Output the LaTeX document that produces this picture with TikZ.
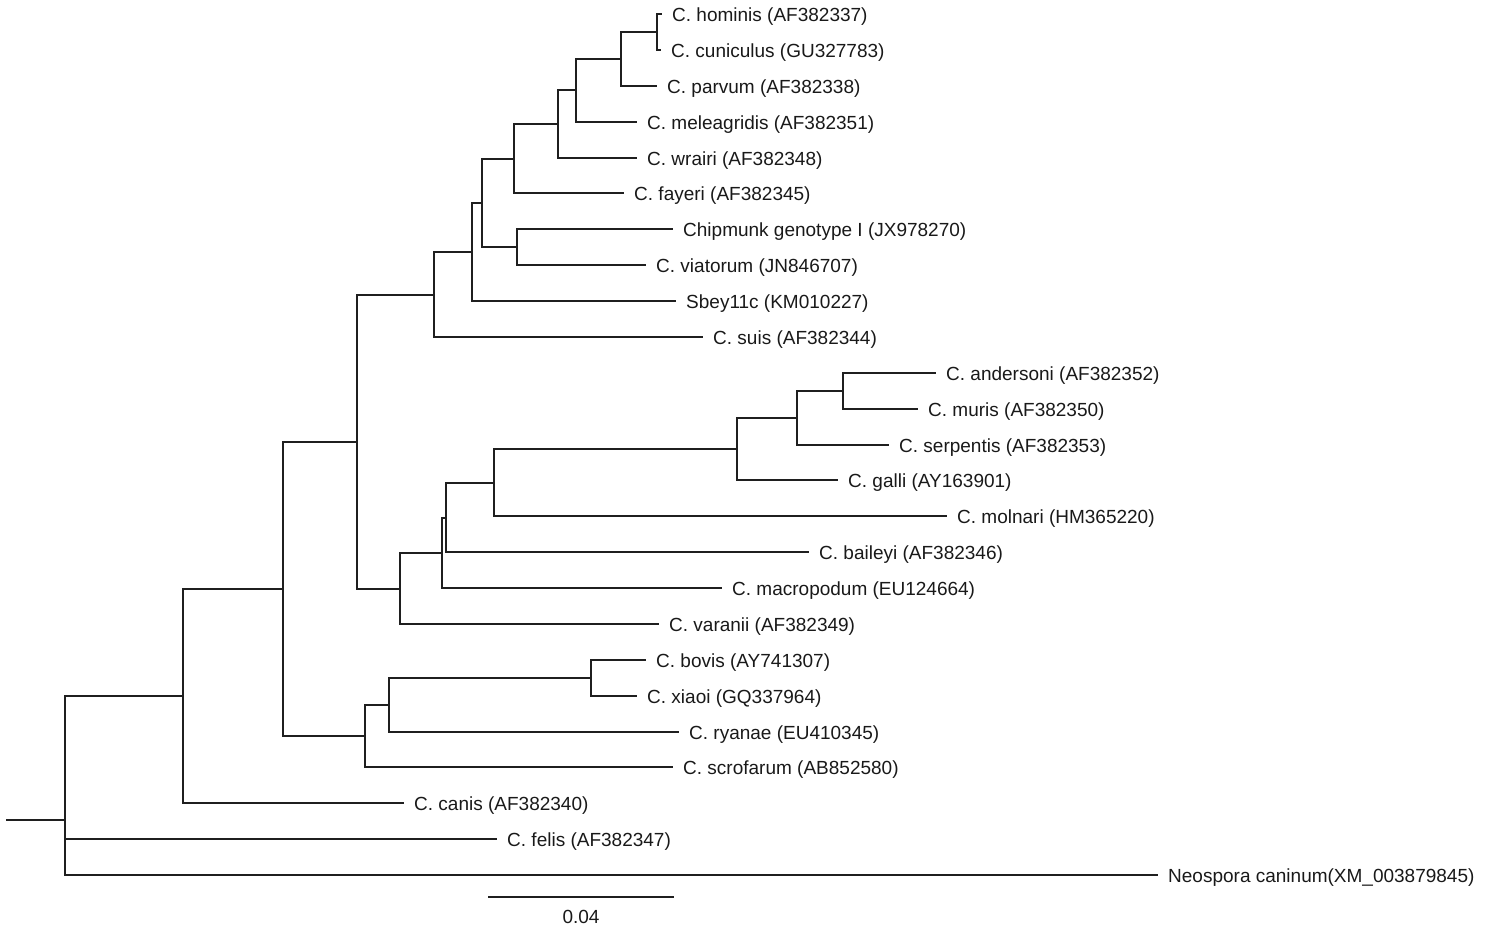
\documentclass[tikz,border=0pt]{standalone}
\usepackage{fontspec}
\setmainfont{Liberation Sans}
\begin{document}
\begin{tikzpicture}[x=1pt,y=-1pt,
  br/.style={line width=2pt, line cap=rect, color=black!88},
  leaf/.style={anchor=west, inner xsep=11pt, inner ysep=0pt, text height=15.6pt, text depth=0pt, text=black!90, font=\fontsize{19}{22}\selectfont},
  scalelbl/.style={inner sep=0pt, text=black!90, font=\fontsize{19}{22}\selectfont}]
\useasboundingbox (0,0) rectangle (1485,931);
% leaves
\node[leaf] (hominis)    at (661,14)  {C. hominis (AF382337)};
\node[leaf] (cuniculus)  at (660,50)  {C. cuniculus (GU327783)};
\node[leaf] (parvum)     at (656,86)  {C. parvum (AF382338)};
\node[leaf] (meleag)     at (636,122) {C. meleagridis (AF382351)};
\node[leaf] (wrairi)     at (636,158) {C. wrairi (AF382348)};
\node[leaf] (fayeri)     at (623,193) {C. fayeri (AF382345)};
\node[leaf] (chipmunk)   at (672,229) {Chipmunk genotype I (JX978270)};
\node[leaf] (viatorum)   at (645,265) {C. viatorum (JN846707)};
\node[leaf] (sbey)       at (675,301) {Sbey11c (KM010227)};
\node[leaf] (suis)       at (702,337) {C. suis (AF382344)};
\node[leaf] (andersoni)  at (935,373) {C. andersoni (AF382352)};
\node[leaf] (muris)      at (917,409) {C. muris (AF382350)};
\node[leaf] (serpentis)  at (888,445) {C. serpentis (AF382353)};
\node[leaf] (galli)      at (837,480) {C. galli (AY163901)};
\node[leaf] (molnari)    at (946,516) {C. molnari (HM365220)};
\node[leaf] (baileyi)    at (808,552) {C. baileyi (AF382346)};
\node[leaf] (macropodum) at (721,588) {C. macropodum (EU124664)};
\node[leaf] (varanii)    at (658,624) {C. varanii (AF382349)};
\node[leaf] (bovis)      at (645,660) {C. bovis (AY741307)};
\node[leaf] (xiaoi)      at (636,696) {C. xiaoi (GQ337964)};
\node[leaf] (ryanae)     at (678,732) {C. ryanae (EU410345)};
\node[leaf] (scrofarum)  at (672,767) {C. scrofarum (AB852580)};
\node[leaf] (canis)      at (403,803) {C. canis (AF382340)};
\node[leaf] (felis)      at (496,839) {C. felis (AF382347)};
\node[leaf] (neospora)   at (1157,875) {Neospora caninum(XM\_003879845)};
% internal nodes
\coordinate (n1)  at (657,32);
\coordinate (n2)  at (621,59);
\coordinate (n3)  at (576,90);
\coordinate (n4)  at (558,124);
\coordinate (n5)  at (514,159);
\coordinate (n6)  at (517,247);
\coordinate (n7)  at (482,203);
\coordinate (n8)  at (472,252);
\coordinate (n9)  at (434,295);
\coordinate (n10) at (843,391);
\coordinate (n11) at (797,418);
\coordinate (n12) at (737,449);
\coordinate (n13) at (494,483);
\coordinate (n14) at (446,518);
\coordinate (n15) at (442,553);
\coordinate (n16) at (400,589);
\coordinate (n17) at (357,442);
\coordinate (n18) at (591,678);
\coordinate (n19) at (389,705);
\coordinate (n20) at (365,736);
\coordinate (n21) at (283,589);
\coordinate (n22) at (183,696);
\coordinate (root) at (65,820);
\coordinate (base) at (7,820);
% branches
\draw[br] (n1) |- (hominis.west);
\draw[br] (n1) |- (cuniculus.west);
\draw[br] (n2) |- (n1);
\draw[br] (n2) |- (parvum.west);
\draw[br] (n3) |- (n2);
\draw[br] (n3) |- (meleag.west);
\draw[br] (n4) |- (n3);
\draw[br] (n4) |- (wrairi.west);
\draw[br] (n5) |- (n4);
\draw[br] (n5) |- (fayeri.west);
\draw[br] (n6) |- (chipmunk.west);
\draw[br] (n6) |- (viatorum.west);
\draw[br] (n7) |- (n5);
\draw[br] (n7) |- (n6);
\draw[br] (n8) |- (n7);
\draw[br] (n8) |- (sbey.west);
\draw[br] (n9) |- (n8);
\draw[br] (n9) |- (suis.west);
\draw[br] (n10) |- (andersoni.west);
\draw[br] (n10) |- (muris.west);
\draw[br] (n11) |- (n10);
\draw[br] (n11) |- (serpentis.west);
\draw[br] (n12) |- (n11);
\draw[br] (n12) |- (galli.west);
\draw[br] (n13) |- (n12);
\draw[br] (n13) |- (molnari.west);
\draw[br] (n14) |- (n13);
\draw[br] (n14) |- (baileyi.west);
\draw[br] (n15) |- (n14);
\draw[br] (n15) |- (macropodum.west);
\draw[br] (n16) |- (n15);
\draw[br] (n16) |- (varanii.west);
\draw[br] (n17) |- (n9);
\draw[br] (n17) |- (n16);
\draw[br] (n18) |- (bovis.west);
\draw[br] (n18) |- (xiaoi.west);
\draw[br] (n19) |- (n18);
\draw[br] (n19) |- (ryanae.west);
\draw[br] (n20) |- (n19);
\draw[br] (n20) |- (scrofarum.west);
\draw[br] (n21) |- (n17);
\draw[br] (n21) |- (n20);
\draw[br] (n22) |- (n21);
\draw[br] (n22) |- (canis.west);
\draw[br] (root) |- (n22);
\draw[br] (root) |- (felis.west);
\draw[br] (root) |- (neospora.west);
\draw[br] (base) -- (root);
% scale bar
\coordinate (sbL) at (489,897);
\coordinate (sbR) at (673,897);
\draw[br] (sbL) -- (sbR);
\node[scalelbl] (sblabel) at (581,917) {0.04};
\end{tikzpicture}
\end{document}
